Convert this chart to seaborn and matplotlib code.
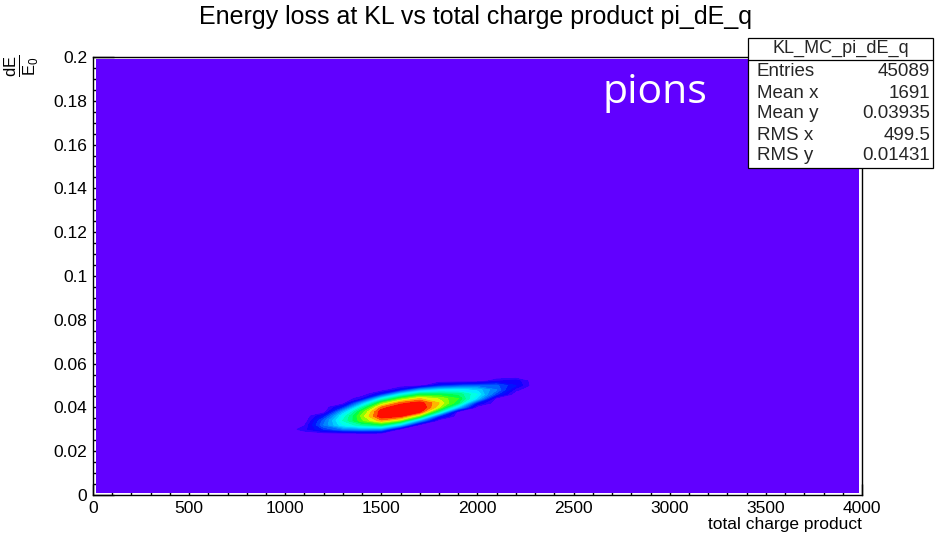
import numpy as np
import matplotlib
matplotlib.use("Agg")
import matplotlib.pyplot as plt
import seaborn as sns
from matplotlib.colors import LinearSegmentedColormap
from matplotlib.patches import Rectangle
from matplotlib.lines import Line2D
from matplotlib.ticker import MultipleLocator, FuncFormatter

# ---- data: 2D histogram of dE/E0 vs total charge product (pions) ----
# bin centres of the populated region
charge_centers = [1000, 1100, 1200, 1300, 1400, 1500, 1600, 1700,
                  1800, 1900, 2000, 2100, 2200, 2300]
dedx_centers = [0.028, 0.030, 0.032, 0.034, 0.036, 0.038, 0.040,
                0.042, 0.044, 0.046, 0.048, 0.050, 0.052, 0.054]
# centres of the first / last bins of the full histogram range
charge_edge_bins = [20, 3980]
dedx_edge_bins = [0.001, 0.199]

# counts (arbitrary units), rows = dedx_centers, columns = charge_centers
counts = [
    [0, 0.0, 0.0, 0.0, 0.0, 0.0, 0.0, 0.0, 0.0, 0.0, 0.0, 0.0, 0.0, 0],
    [0, 0.8, 2.0, 3.0, 3.4, 3.2, 0.0, 0.0, 0.0, 0.0, 0.0, 0.0, 0.0, 0],
    [0, 0.4, 3.0, 4.9, 5.9, 6.5, 4.2, 0.0, 0.0, 0.0, 0.0, 0.0, 0.0, 0],
    [0, 0.0, 2.7, 5.5, 7.4, 8.8, 7.6, 3.6, 0.0, 0.0, 0.0, 0.0, 0.0, 0],
    [0, 0.0, 1.6, 5.1, 7.7, 9.9, 9.6, 7.4, 2.0, 0.0, 0.0, 0.0, 0.0, 0],
    [0, 0.0, 0.0, 3.9, 7.2, 9.9, 10.5, 9.7, 5.9, 0.0, 0.0, 0.0, 0.0, 0],
    [0, 0.0, 0.0, 1.8, 5.8, 9.1, 10.2, 10.3, 8.0, 4.1, 0.0, 0.0, 0.0, 0],
    [0, 0.0, 0.0, 0.0, 3.7, 7.4, 9.2, 9.8, 8.5, 6.5, 1.5, 0.0, 0.0, 0],
    [0, 0.0, 0.0, 0.0, 0.9, 4.9, 7.3, 8.5, 7.9, 7.0, 4.3, 0.0, 0.0, 0],
    [0, 0.0, 0.0, 0.0, 0.0, 1.6, 4.7, 6.5, 6.6, 6.3, 5.0, 2.1, 0.0, 0],
    [0, 0.0, 0.0, 0.0, 0.0, 0.0, 1.3, 3.6, 4.5, 4.7, 4.3, 3.0, 0.6, 0],
    [0, 0.0, 0.0, 0.0, 0.0, 0.0, 0.0, 0.0, 1.6, 2.2, 2.5, 2.6, 1.5, 0],
    [0, 0.0, 0.0, 0.0, 0.0, 0.0, 0.0, 0.0, 0.0, 0.0, 0.0, 0.9, 1.3, 0],
    [0, 0.0, 0.0, 0.0, 0.0, 0.0, 0.0, 0.0, 0.0, 0.0, 0.0, 0.0, 0.0, 0],
]

title = "Energy loss at KL vs total charge product pi_dE_q"
x_label = "total charge product"
y_label = r"$\frac{\mathrm{dE}}{\mathrm{E}_{0}}$"
annotation = "pions"

stats_name = "KL_MC_pi_dE_q"
stats_labels = ["Entries", "Mean x", "Mean y", "RMS x", "RMS y"]
stats_values = ["45089", "1691", "0.03935", "499.5", "0.01431"]

# ---- style ----
sns.set_theme(style="ticks")
plt.rcParams["font.family"] = ["Liberation Sans", "DejaVu Sans"]
plt.rcParams["mathtext.fontset"] = "custom"
plt.rcParams["mathtext.rm"] = "Liberation Sans"
plt.rcParams["mathtext.it"] = "Liberation Sans:italic"

# rainbow palette (violet -> blue -> cyan -> green -> yellow -> red)
palette = LinearSegmentedColormap.from_list("rainbow_root", [
    (0.0 / 10.5, "#6100ff"),
    (0.75 / 10.5, "#3000ff"),
    (1.5 / 10.5, "#0000ff"),
    (2.5 / 10.5, "#0050ff"),
    (3.5 / 10.5, "#0098ff"),
    (4.5 / 10.5, "#00e0ff"),
    (5.0 / 10.5, "#00ffff"),
    (6.0 / 10.5, "#00ffa0"),
    (6.8 / 10.5, "#00ff40"),
    (7.5 / 10.5, "#60ff00"),
    (8.2 / 10.5, "#e0ff00"),
    (8.6 / 10.5, "#ffd000"),
    (9.0 / 10.5, "#ff9000"),
    (9.5 / 10.5, "#ff3000"),
    (10.5 / 10.5, "#ff0000"),
])
levels = [-1.0] + list(np.arange(0.5, 10.0, 0.5)) + [11.0]
band_mid = [0.0] + [(a + b) / 2 for a, b in zip(levels[1:-1], levels[2:])]
band_colors = [palette(min(v, 10.5) / 10.5) for v in band_mid]

# full histogram grid (empty bins padded around the populated block)
xs = np.array([charge_edge_bins[0]] + charge_centers + [charge_edge_bins[1]])
ys = np.array([dedx_edge_bins[0]] + dedx_centers + [dedx_edge_bins[1]])
Z = np.pad(np.array(counts, dtype=float), 1)

W, H = 940, 537
fig = plt.figure(figsize=(W / 100, H / 100), dpi=100)
fig.patch.set_facecolor("white")
ax = fig.add_axes([93 / W, 42 / H, 769 / W, 438 / H])
ax.set_facecolor("white")

cs = ax.contourf(xs, ys, Z, levels=levels, colors=band_colors,
                 antialiased=False)
# outline each band in its own colour so neighbouring bands meet cleanly
ax.contour(xs, ys, Z, levels=levels[1:-1], colors=band_colors[1:],
           linewidths=0.8)

ax.set_xlim(0, 4000)
ax.set_ylim(0, 0.2)
ax.xaxis.set_major_locator(MultipleLocator(500))
ax.xaxis.set_minor_locator(MultipleLocator(100))
ax.yaxis.set_major_locator(MultipleLocator(0.02))
ax.yaxis.set_minor_locator(MultipleLocator(0.005))
ax.xaxis.set_major_formatter(FuncFormatter(lambda v, p: f"{round(v):d}"))
ax.yaxis.set_major_formatter(FuncFormatter(lambda v, p: f"{round(v, 4):g}"))

ax.tick_params(which="both", direction="in", top=False, right=False,
               colors="black", width=1.0, labelsize=12.5)
ax.tick_params(axis="x", which="major", length=8, pad=4)
ax.tick_params(axis="x", which="minor", length=3.6)
ax.tick_params(axis="y", which="major", length=15, pad=4)
ax.tick_params(axis="y", which="minor", length=6.5)
for s in ax.spines.values():
    s.set_color("black")
    s.set_linewidth(1.0)
    s.set_visible(True)

ax.set_xlabel(x_label, loc="right", fontsize=12.5, labelpad=1, color="black")
ax.set_ylabel(y_label, loc="top", fontsize=17, color="black")
ax.yaxis.set_label_coords(-0.068, 1.006)

fig.text(475 / W, 1 - 17 / H, title, ha="center", va="center",
         fontsize=18, color="black")

# white label inside the plot
fig.text(602 / W, 1 - 103 / H, annotation, ha="left", va="baseline",
         fontsize=29.5, color="white", family="Open Sans")

# statistics box
bx0, bx1, by0, by1 = 748, 933, 38, 168
fig.patches.append(Rectangle((bx0 / W, 1 - by1 / H), (bx1 - bx0) / W,
                             (by1 - by0) / H, transform=fig.transFigure,
                             facecolor="white", edgecolor="black",
                             linewidth=0.9, zorder=5))
fig.lines.append(Line2D([bx0 / W, bx1 / W], [1 - 60 / H, 1 - 60 / H],
                        transform=fig.transFigure, color="black",
                        linewidth=0.9, zorder=6))
fig.text((bx0 + bx1) / 2 / W, 1 - 48 / H, stats_name, ha="center",
         va="center", fontsize=13, zorder=7)
for i, (lab, val) in enumerate(zip(stats_labels, stats_values)):
    yy = 1 - (72 + 21 * i) / H
    fig.text(757 / W, yy, lab, ha="left", va="center", fontsize=13.5, zorder=7)
    fig.text(930 / W, yy, val, ha="right", va="center", fontsize=13.5, zorder=7)

fig.savefig("out.png", dpi=100)
